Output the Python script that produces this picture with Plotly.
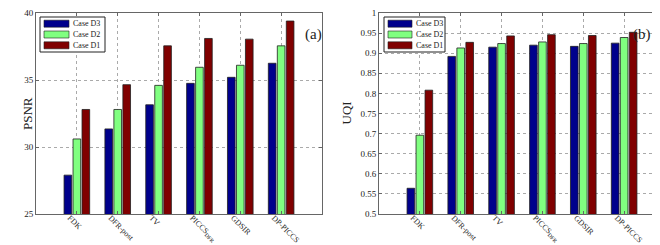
import plotly.graph_objects as go

methods = ["FDK", "DFR-post", "TV", "PICCS<sub>DFR</sub>", "GDSIR", "DP-PICCS"]
series_names = ["Case D3", "Case D2", "Case D1"]
colors = ["#00008c", "#80ff80", "#800000"]

psnr_d3 = [27.9, 31.35, 33.15, 34.75, 35.2, 36.25]
psnr_d2 = [30.6, 32.8, 34.6, 35.95, 36.1, 37.55]
psnr_d1 = [32.8, 34.65, 37.55, 38.1, 38.05, 39.4]

uqi_d3 = [0.564, 0.892, 0.915, 0.920, 0.917, 0.925]
uqi_d2 = [0.696, 0.913, 0.924, 0.928, 0.924, 0.939]
uqi_d1 = [0.808, 0.927, 0.943, 0.946, 0.944, 0.952]

psnr_ticks = [25, 30, 35, 40]
uqi_ticks = [0.5, 0.55, 0.6, 0.65, 0.7, 0.75, 0.8, 0.85, 0.9, 0.95, 1.0]
uqi_ticktext = ["0.5", "0.55", "0.6", "0.65", "0.7", "0.75", "0.8", "0.85", "0.9", "0.95", "1"]

FONT = "Liberation Serif, Times New Roman, serif"
W, H, MT, MB = 660, 245, 5, 39
PH = H - MT - MB


def px(x):
    return x / W


def py(y):
    return (H - MB - y) / PH


fig = go.Figure()
for name, col, vals in zip(series_names, colors, [psnr_d3, psnr_d2, psnr_d1]):
    fig.add_trace(go.Bar(x=methods, y=vals, name=name, showlegend=False,
                         marker=dict(color=col, line=dict(color="#202020", width=0.8)),
                         xaxis="x", yaxis="y"))
for name, col, vals in zip(series_names, colors, [uqi_d3, uqi_d2, uqi_d1]):
    fig.add_trace(go.Bar(x=methods, y=vals, name=name, showlegend=False,
                         marker=dict(color=col, line=dict(color="#202020", width=0.8)),
                         xaxis="x2", yaxis="y2"))

axcommon = dict(showline=True, mirror="ticks", linecolor="#666666", linewidth=1,
                ticks="inside", ticklen=3, tickcolor="#666666",
                showgrid=True, gridcolor="#aaaaaa", griddash="dot", gridwidth=1,
                tickfont=dict(family=FONT, size=9, color="#222222"), zeroline=False)
xextra = dict(tickfont=dict(family=FONT, size=8, color="#222222"), ticklabelshift=-7, ticklabelstandoff=-5)

shapes = []
annotations = [
    dict(text="PSNR", xref="paper", yref="paper", x=px(10), y=0.5, showarrow=False, textangle=-90,
         font=dict(family=FONT, size=13)),
    dict(text="UQI", xref="paper", yref="paper", x=px(338), y=0.5, showarrow=False, textangle=-90,
         font=dict(family=FONT, size=13)),
    dict(text="(a)", xref="paper", yref="paper", x=px(305), y=py(16), showarrow=False,
         font=dict(family=FONT, size=15)),
    dict(text="(b)", xref="paper", yref="paper", x=px(645), y=py(16), showarrow=False,
         font=dict(family=FONT, size=15)),
]

# manual legends (box, colour patches, labels)
for (bx0, bx1, pat0, pat1) in [(32, 97, 36, 61), (376, 437, 380, 404)]:
    shapes.append(dict(type="rect", xref="paper", yref="paper", x0=px(bx0), x1=px(bx1), y0=py(44), y1=py(9),
                       line=dict(color="#222222", width=1), fillcolor="white", layer="above"))
    for i, (name, col) in enumerate(zip(series_names, colors)):
        yc = 15.7 + i * 10.8
        shapes.append(dict(type="rect", xref="paper", yref="paper", x0=px(pat0), x1=px(pat1),
                           y0=py(yc + 3.5), y1=py(yc - 3.5),
                           line=dict(color="#202020", width=0.6), fillcolor=col, layer="above"))
        annotations.append(dict(text=name, xref="paper", yref="paper", x=px(pat1 + 2), y=py(yc),
                                xanchor="left", yanchor="middle", showarrow=False,
                                font=dict(family=FONT, size=8, color="#222222")))

fig.update_layout(
    width=W, height=H,
    margin=dict(l=0, r=0, t=MT, b=MB),
    paper_bgcolor="white", plot_bgcolor="white",
    barmode="group", bargap=0.34, bargroupgap=0.15,
    font=dict(family=FONT, color="#222222"),
    showlegend=False,
    xaxis=dict(domain=[px(28), px(314)], type="category", range=[-1, 6], tickangle=45, anchor="y",
               **{**axcommon, **xextra}),
    yaxis=dict(domain=[0, 1], range=[25, 40], tickvals=psnr_ticks, anchor="x", **axcommon),
    xaxis2=dict(domain=[px(371), px(657)], type="category", range=[-1, 6], tickangle=45, anchor="y2",
                **{**axcommon, **xextra}),
    yaxis2=dict(domain=[0, 1], range=[0.5, 1.0], tickvals=uqi_ticks, ticktext=uqi_ticktext, anchor="x2", **axcommon),
    shapes=shapes,
    annotations=annotations,
)

fig.write_html("out.html")
